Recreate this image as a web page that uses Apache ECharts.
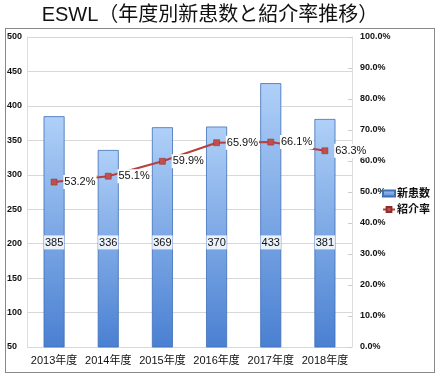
<!DOCTYPE html>
<html><head><meta charset="utf-8">
<script src="https://cdn.jsdelivr.net/npm/echarts@6/dist/echarts.min.js"></script>
<style>html,body{margin:0;padding:0;background:#fff}#c{width:442px;height:379px}
#box{position:absolute;left:5px;top:28px;width:430px;height:345px;border:1px solid #888;box-sizing:border-box;pointer-events:none}</style>
</head><body><div id="c"></div><div id="box"></div>
<script>
const categories = ['2013年度','2014年度','2015年度','2016年度','2017年度','2018年度'];
const newPatients = [385, 336, 369, 370, 433, 381];
const referralRate = [53.2, 55.1, 59.9, 65.9, 66.1, 63.3];
const title = 'ESWL（年度別新患数と紹介率推移）';

const chart = echarts.init(document.getElementById('c'));
const font = '"Liberation Sans", "Noto Sans CJK JP", sans-serif';
const narrow = '"Liberation Sans Narrow", "Liberation Sans", "Noto Sans CJK JP", sans-serif';
chart.setOption({
  animation: false,
  title: { text: title, left: 205, top: 0, textAlign: 'center',
    textStyle: { fontFamily: '"Liberation Sans", "Noto Sans CJK SC", sans-serif', fontSize: 20, fontWeight: 'normal', color: '#111' } },
  grid: { left: 27, right: 90, top: 37, bottom: 32 },
  legend: {
    orient: 'vertical', left: 377, top: 183, itemGap: 5, itemWidth: 12, itemHeight: 6,
    textStyle: { fontFamily: font, fontSize: 11, fontWeight: 'bold', color: '#111', padding: [0,0,0,-3] },
    data: [{ name: '新患数', icon: 'rect' }, { name: '紹介率' }]
  },
  xAxis: {
    type: 'category', data: categories,
    axisLine: { show: false }, axisTick: { show: false },
    axisLabel: { fontFamily: narrow, fontSize: 11, color: '#111', margin: 8, interval: 0 }
  },
  yAxis: [
    { type: 'value', min: 50, max: 500, interval: 50,
      axisLine: { show: true, lineStyle: { color: '#ddd' } }, axisTick: { show: false },
      splitLine: { lineStyle: { color: '#d8d8d8' } },
      axisLabel: { fontFamily: font, fontSize: 9, fontWeight: 'bold', color: '#111', align: 'left', margin: 20 } },
    { type: 'value', min: 0, max: 100, interval: 10, position: 'right',
      axisLine: { show: true, lineStyle: { color: '#ddd' } },
      axisTick: { show: true, length: 4, inside: true, lineStyle: { color: '#ccc' } },
      splitLine: { show: false },
      axisLabel: { fontFamily: font, fontSize: 9, fontWeight: 'bold', color: '#111', margin: 8,
        formatter: v => v.toFixed(1) + '%' } }
  ],
  series: [
    { name: '新患数', type: 'bar', data: newPatients, barWidth: 21, yAxisIndex: 0,
      itemStyle: { color: new echarts.graphic.LinearGradient(0,0,0,1,[
        { offset: 0, color: '#afd0f8' }, { offset: 1, color: '#4a80d2' }]),
        borderColor: '#3f6fb5', borderWidth: 0.8 },
      label: { show: true, position: 'insideBottom', distance: 98,
        fontFamily: font, fontSize: 11, color: '#111',
        backgroundColor: 'rgba(255,255,255,0.85)', padding: [2,1,1,1] } },
    { name: '紹介率', type: 'line', data: referralRate, yAxisIndex: 1,
      symbol: 'rect', symbolSize: 6,
      lineStyle: { color: '#b8403c', width: 2 },
      itemStyle: { color: '#c0504d', borderColor: '#8c2f2c', borderWidth: 0.5 },
      label: { show: true, position: 'right', distance: 6,
        fontFamily: font, fontSize: 11, color: '#111',
        backgroundColor: '#fff', padding: [2,1,1,1],
        formatter: p => p.value.toFixed(1) + '%' } }
  ]
});
</script></body></html>
